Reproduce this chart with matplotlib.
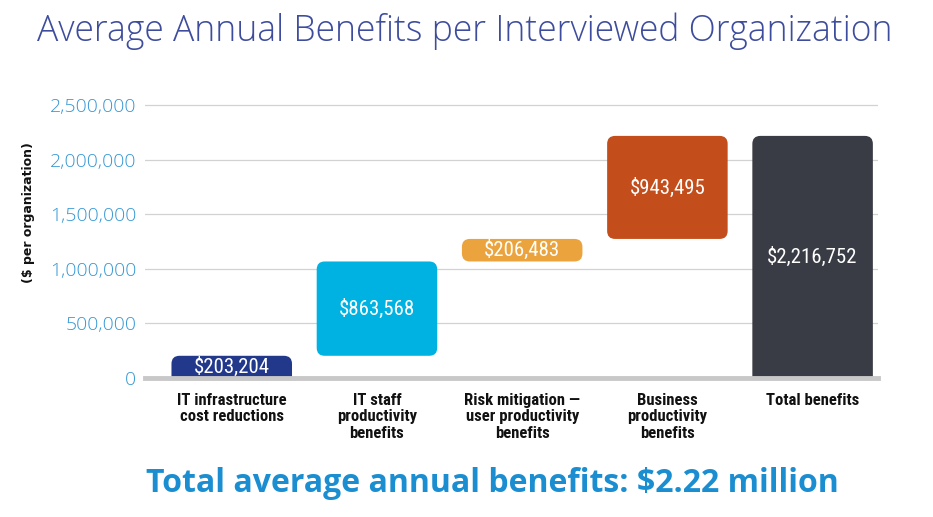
import matplotlib
matplotlib.use('Agg')
import matplotlib.pyplot as plt
from matplotlib.patches import FancyBboxPatch
from matplotlib import font_manager

# Data
categories = ['IT infrastructure\ncost reductions', 'IT staff\nproductivity\nbenefits',
              'Risk mitigation \u2014\nuser productivity\nbenefits', 'Business\nproductivity\nbenefits',
              'Total benefits']
values = [203204, 863568, 206483, 943495, 2216752]
bar_labels = ['$203,204', '$863,568', '$206,483', '$943,495', '$2,216,752']
colors = ['#22388b', '#00b2e2', '#eba33d', '#c44e1b', '#3a3c45']
y_ticks = [0, 500000, 1000000, 1500000, 2000000, 2500000]
y_tick_labels = ['0', '500,000', '1,000,000', '1,500,000', '2,000,000', '2,500,000']


def pick(*names):
    avail = {f.name for f in font_manager.fontManager.ttflist}
    for n in names:
        if n in avail:
            return n
    return 'DejaVu Sans'


narrow = pick('Liberation Sans Narrow', 'Roboto Condensed', 'Liberation Sans')
light = pick('Open Sans', 'Lato', 'Noto Sans')

fig = plt.figure(figsize=(9.33, 5.17), dpi=100)
ax = fig.add_axes([0.155, 0.2689, 0.786, 0.5323])

ymax = 2520000
ax.set_xlim(-0.6, 4.45)
ax.set_ylim(0, ymax)

# waterfall: running bottom for the steps, last bar is the total from zero
bottoms = []
running = 0
for i, v in enumerate(values):
    if i == len(values) - 1:
        bottoms.append(0)
    else:
        bottoms.append(running)
        running += v

width = 0.83
px_x = 733 / 5.05          # pixels per x unit
px_y = 275.2 / ymax        # pixels per y unit
r = 8 / px_x
aspect = px_x / px_y

for i, (b, v, c, lab) in enumerate(zip(bottoms, values, colors, bar_labels)):
    lo = b if b > 0 else -150000   # hide bottom rounding under the baseline
    top = b + v
    patch = FancyBboxPatch((i - width / 2, lo), width, top - lo,
                           boxstyle=f'round,pad=0,rounding_size={r}',
                           mutation_aspect=aspect, facecolor=c, edgecolor='none',
                           zorder=3)
    ax.add_patch(patch)
    ax.text(i, b + v / 2, lab, ha='center', va='center', color='white',
            fontsize=15, family=narrow, zorder=4)

# grid and baseline
for t in y_ticks[1:]:
    ax.axhline(t, color='#d2d2d2', lw=0.9, zorder=1)
ax.axhline(0, color='#c8c8c8', lw=3.5, zorder=5, clip_on=False)

for s in ax.spines.values():
    s.set_visible(False)

ax.set_yticks(y_ticks)
ax.set_yticklabels(y_tick_labels, color='#3497d4', fontsize=14,
                   family=light, fontweight='light')
ax.tick_params(axis='y', length=0, pad=6)

ax.set_xticks(range(len(categories)))
ax.set_xticklabels(categories, fontsize=12, fontweight='bold', family=narrow,
                   color='#111111', linespacing=1.1, va='top')
ax.tick_params(axis='x', length=0, pad=11)

fig.text(0.031, 0.588, '($ per organization)', rotation=90, ha='center', va='center',
         fontsize=9, fontweight='bold', color='#111111')

fig.text(0.04, 0.94, 'Average Annual Benefits per Interviewed Organization',
         ha='left', va='center', fontsize=25.6, color='#3d4c9c',
         family=light, fontweight='light')

fig.text(0.528, 0.064, 'Total average annual benefits: $2.22 million',
         ha='center', va='center', fontsize=23, fontweight='bold',
         color='#1a8ed0', family=light)

fig.savefig('out.png', dpi=100)
